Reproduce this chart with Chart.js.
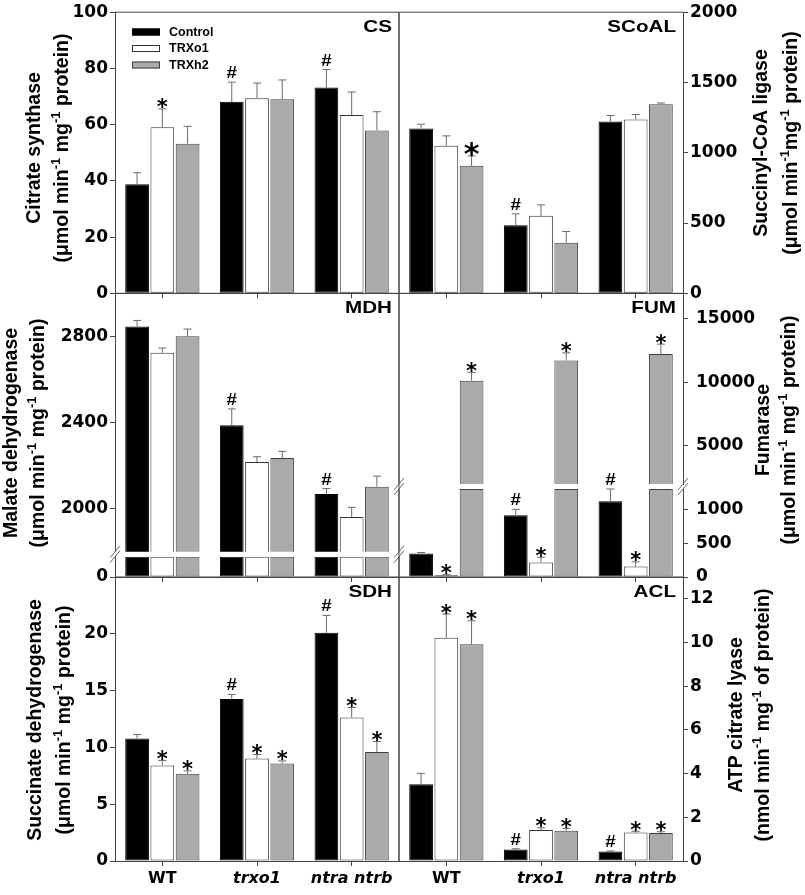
<!DOCTYPE html>
<html>
<head>
<meta charset="utf-8">
<script src="https://cdn.jsdelivr.net/npm/chart.js@4.4.0/dist/chart.umd.min.js"></script>
<style>
  html, body { margin: 0; padding: 0; background: #fff; }
  #fig { position: relative; width: 805px; height: 895px; overflow: hidden; }
  #fig canvas { position: absolute; left: 0; top: 0; }
</style>
</head>
<body>
<div id="fig"></div>
<script>
// x categories and the three bar series
var genotypes = ['WT', 'trxo1', 'ntra ntrb'];
var treatments = ['Control', 'TRXo1', 'TRXh2'];

// rows = Control, TRXo1, TRXh2 ; columns = genotypes
var csMean = [[38.8, 68.1, 73.2], [59.1, 69.4, 63.4], [53.2, 69.0, 57.9]];
var csErr  = [[4.1, 7.0, 6.4], [6.5, 5.4, 8.2], [6.2, 6.9, 6.7]];
var csMark = [['', '#', '#'], ['*', '', ''], ['', '', '']];
var csTicks = [0, 20, 40, 60, 80, 100];

var scoalMean = [[1173, 485, 1223], [1050, 551, 1237], [907, 360, 1345]];
var scoalErr  = [[30, 80, 42], [70, 78, 35], [70, 80, 9]];
var scoalMark = [['', '#', ''], ['', '', ''], ['*', '', '']];
var scoalTicks = [0, 500, 1000, 1500, 2000];

var mdhMean = [[2846, 2387, 2068], [2724, 2216, 1961], [2800, 2235, 2102]];
var mdhErr  = [[28, 76, 25], [22, 25, 45], [34, 31, 49]];
var mdhMark = [['', '#', '#'], ['', '', ''], ['', '', '']];
var mdhTicksHigh = [2000, 2400, 2800];
var mdhTicksLow = [0];

var fumMean = [[347, 911, 1120], [25, 214, 154], [10130, 11720, 12220]];
var fumErr  = [[15, 90, 180], [10, 78, 70], [650, 600, 780]];
var fumMark = [['', '#', '#'], ['*', '*', '*'], ['*', '*', '*']];
var fumTicksHigh = [5000, 10000, 15000];
var fumTicksLow = [0, 500, 1000];

var sdhMean = [[10.78, 14.27, 20.09], [8.40, 9.02, 12.63], [7.67, 8.58, 9.60]];
var sdhErr  = [[0.35, 0.39, 1.53], [0.44, 0.35, 0.88], [0.26, 0.23, 0.92]];
var sdhMark = [['', '#', '#'], ['*', '*', '*'], ['*', '*', '*']];
var sdhTicks = [0, 5, 10, 15, 20];

var aclMean = [[3.51, 0.53, 0.43], [10.22, 1.42, 1.30], [9.92, 1.39, 1.28]];
var aclErr  = [[0.50, 0.03, 0.03], [1.08, 0.10, 0.06], [1.08, 0.10, 0.06]];
var aclMark = [['', '#', '#'], ['*', '*', '*'], ['*', '*', '*']];
var aclTicks = [0, 2, 4, 6, 8, 10, 12];

var fig = document.getElementById('fig');
var W = 805, H = 895;
var colX = [[115, 399], [399, 683]];
var AXW = 75, XH = 30;
var fills = ['#000000', '#ffffff', '#aaaaaa'];
var edges = ['#000000', '#333333', '#404040'];
var axisCol = '#444444', errCol = '#6a6a6a';
Chart.defaults.font.family = '"Liberation Sans", Arial, sans-serif';

// panels; the broken axes (MDH, FUM) are split in an upper and a lower part
var segs = [
  {col: 0, top: 10, bottom: 293.3, kind: 'full', min: 0, max: 100, ticks: csTicks,
   mean: csMean, err: csErr, mark: csMark, name: 'CS', legend: true,
   title: ['Citrate synthase', '(\u03bcmol min^-1 mg^-1 protein)'], tx: [35, 63], ty: 148},
  {col: 1, top: 10, bottom: 293.3, kind: 'full', min: 0, max: 2000, ticks: scoalTicks,
   mean: scoalMean, err: scoalErr, mark: scoalMark, name: 'SCoAL', bigStar: true,
   title: ['Succinyl-CoA ligase', '(\u03bcmol min^-1mg^-1 protein)'], tx: [762, 792], ty: 143},
  {col: 0, top: 293.3, bottom: 551.7, kind: 'upper', min: 1800, max: 3000, ticks: mdhTicksHigh,
   mean: mdhMean, err: mdhErr, mark: mdhMark, name: 'MDH', noX: true,
   title: ['Malate dehydrogenase', '(\u03bcmol min^-1 mg^-1 protein)'], tx: [12, 39], ty: 433},
  {col: 0, top: 556.7, bottom: 577, kind: 'lower', min: 0, max: 200, ticks: mdhTicksLow,
   mean: mdhMean, err: mdhErr, mark: mdhMark, brk: 554.2},
  {col: 1, top: 293.3, bottom: 484, kind: 'upper', min: 2000, max: 17000, ticks: fumTicksHigh,
   mean: fumMean, err: fumErr, mark: fumMark, name: 'FUM', noX: true, tickPad: 8,
   title: ['Fumarase', '(\u03bcmol min^-1 mg^-1 protein)'], tx: [764, 790], ty: 430},
  {col: 1, top: 489, bottom: 577, kind: 'lower', min: 0, max: 1300, ticks: fumTicksLow,
   mean: fumMean, err: fumErr, mark: fumMark, brk: 486.5, tickPad: 8},
  {col: 0, top: 577, bottom: 861, kind: 'full', min: 0, max: 25, ticks: sdhTicks,
   mean: sdhMean, err: sdhErr, mark: sdhMark, name: 'SDH', labels: true,
   title: ['Succinate dehydrogenase', '(\u03bcmol min^-1 mg^-1 protein)'], tx: [36, 65], ty: 720},
  {col: 1, top: 577, bottom: 861, kind: 'full', min: 0, max: 13, ticks: aclTicks,
   mean: aclMean, err: aclErr, mark: aclMark, name: 'ACL', labels: true,
   title: ['ATP citrate lyase', '(nmol min^-1 mg^-1 of protein)'], tx: [737, 764], ty: 715}
];

function stretchText(ctx, txt, x, y, font, align, sx) {
  ctx.save();
  ctx.translate(x, y);
  ctx.scale(sx, 1);
  ctx.font = font;
  ctx.textAlign = align;
  ctx.textBaseline = 'alphabetic';
  ctx.fillStyle = '#000';
  ctx.fillText(txt, 0, 0);
  ctx.restore();
}

// rotated axis title line, "^-1" is drawn as a superscript
function drawTitle(ctx, line, x, cy) {
  var parts = line.split(/(\^-1)/).filter(Boolean);
  var big = 'bold 19.5px "Liberation Sans"', small = 'bold 13px "Liberation Sans"';
  ctx.save();
  ctx.translate(x, cy);
  ctx.rotate(-Math.PI / 2);
  ctx.fillStyle = '#000';
  ctx.textBaseline = 'middle';
  ctx.textAlign = 'left';
  var w = parts.map(function (p) {
    var sup = p[0] === '^';
    ctx.font = sup ? small : big;
    return ctx.measureText(sup ? p.slice(1) : p).width;
  });
  var pos = -w.reduce(function (a, b) { return a + b; }, 0) / 2;
  parts.forEach(function (p, k) {
    var sup = p[0] === '^';
    ctx.font = sup ? small : big;
    ctx.fillText(sup ? p.slice(1) : p, pos, sup ? -7 : 0);
    pos += w[k];
  });
  ctx.restore();
}

function line(ctx, x0, y0, x1, y1, col) {
  ctx.beginPath();
  ctx.moveTo(x0, y0);
  ctx.lineTo(x1, y1);
  ctx.strokeStyle = col;
  ctx.lineWidth = 1;
  ctx.stroke();
}

function decor(s) {
  return {
    id: 'decor',
    afterDatasetsDraw: function (chart) {
      var ctx = chart.ctx, a = chart.chartArea, y = chart.scales.y;
      // frame (the axis borders draw the other sides)
      if (s.kind !== 'lower') line(ctx, a.left, a.top, a.right, a.top, axisCol);
      if (s.col === 0) line(ctx, a.right, a.top, a.right, a.bottom, axisCol);
      else line(ctx, a.left, a.top, a.left, a.bottom, axisCol);

      // error bars and significance marks
      treatments.forEach(function (t, i) {
        var meta = chart.getDatasetMeta(i);
        s.mean[i].forEach(function (v, j) {
          if (v < s.min || v > s.max) return;
          var bx = meta.data[j].x;
          var y0 = y.getPixelForValue(v), y1 = y.getPixelForValue(v + s.err[i][j]);
          line(ctx, bx, y0, bx, y1, errCol);
          line(ctx, bx - 4, y1, bx + 4, y1, errCol);
          var m = s.mark[i][j];
          if (m === '*') {
            var sz = s.bigStar ? 30 : 21;
            stretchText(ctx, '*', bx, y1 - 1 + sz * 0.31, 'bold ' + sz + 'px "DejaVu Sans"', 'center', 1);
          } else if (m === '#') {
            stretchText(ctx, '#', bx, y1 - 4, 'bold 17px "Liberation Sans"', 'center', 1.1);
          }
        });
      });

      if (s.name) {
        stretchText(ctx, s.name, a.right - 7, a.top + 20, 'bold 16.5px "Liberation Sans"', 'right', 1.25);
        drawTitle(ctx, s.title[0], s.tx[0], s.ty);
        drawTitle(ctx, s.title[1], s.tx[1], s.ty);
      }

      if (s.legend) {
        treatments.forEach(function (t, i) {
          var cy = 32 + i * 16.5;
          ctx.fillStyle = fills[i];
          ctx.fillRect(132, cy - 3.5, 28, 7);
          ctx.strokeStyle = edges[i];
          ctx.lineWidth = 1;
          ctx.strokeRect(132.5, cy - 3, 27, 6);
          ctx.fillStyle = '#000';
          ctx.font = 'bold 12.5px "Liberation Sans"';
          ctx.textAlign = 'left';
          ctx.textBaseline = 'middle';
          ctx.fillText(t, 169, cy + 0.5);
        });
      }

      // axis break marks
      if (s.brk) {
        colX[s.col].forEach(function (x) {
          [-2.5, 2.5].forEach(function (o) {
            line(ctx, x - 5, s.brk + o + 6, x + 5, s.brk + o - 6, '#666');
          });
        });
      }
    }
  };
}

segs.forEach(function (s) {
  var cv = document.createElement('canvas');
  cv.width = W;
  cv.height = H;
  fig.appendChild(cv);
  var cx = colX[s.col];
  var onRight = s.col === 1;

  var datasets = treatments.map(function (t, i) {
    return {
      label: t,
      data: s.mean[i].map(function (v) {
        if (s.kind === 'upper') return v >= s.min ? v : null;
        if (s.kind === 'lower') return Math.min(v, s.max);
        return v;
      }),
      backgroundColor: fills[i],
      borderColor: edges[i],
      borderWidth: 1,
      borderSkipped: false,
      categoryPercentage: 0.8,
      barPercentage: 0.94
    };
  });

  new Chart(cv, {
    type: 'bar',
    data: { labels: genotypes, datasets: datasets },
    options: {
      responsive: false,
      animation: false,
      devicePixelRatio: 1,
      layout: {
        padding: {
          left: onRight ? cx[0] : cx[0] - AXW,
          right: onRight ? W - cx[1] - AXW : W - cx[1],
          top: s.top,
          bottom: H - s.bottom - (s.noX ? 0 : XH)
        }
      },
      plugins: { legend: { display: false }, tooltip: { enabled: false } },
      scales: {
        x: {
          display: !s.noX,
          afterFit: function (sc) { sc.height = s.noX ? 0 : XH; },
          grid: { offset: false, drawOnChartArea: false, drawTicks: true, tickLength: 5, color: axisCol },
          border: { display: true, color: axisCol },
          ticks: {
            display: !!s.labels,
            color: '#000',
            padding: 3,
            maxRotation: 0,
            autoSkip: false,
            font: function (c) {
              return { family: '"DejaVu Sans"', weight: 'bold', size: 16, style: c.index > 0 ? 'italic' : 'normal' };
            }
          }
        },
        y: {
          type: 'linear',
          position: onRight ? 'right' : 'left',
          min: s.min,
          max: s.max,
          afterBuildTicks: function (sc) {
            sc.ticks = s.ticks.map(function (v) { return { value: v }; });
          },
          afterFit: function (sc) { sc.width = AXW; },
          grid: { drawOnChartArea: false, drawTicks: true, tickLength: 5, color: axisCol },
          border: { display: true, color: axisCol },
          ticks: {
            color: '#000',
            padding: s.tickPad || 2,
            font: { family: '"DejaVu Sans"', weight: 'bold', size: 17 },
            callback: function (v) { return String(v); }
          }
        }
      }
    },
    plugins: [decor(s)]
  });
});
</script>
</body>
</html>
